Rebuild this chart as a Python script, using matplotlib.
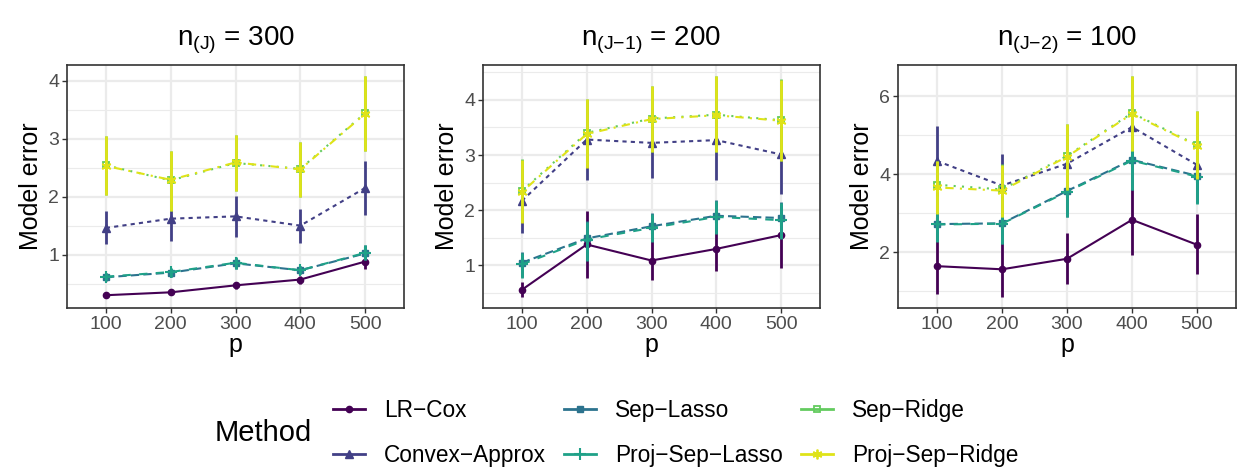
import numpy as np
import matplotlib
matplotlib.use("Agg")
import matplotlib.pyplot as plt
from matplotlib.lines import Line2D

plt.rcParams['font.family'] = ['Liberation Sans', 'DejaVu Sans']
plt.rcParams['mathtext.fontset'] = 'custom'
plt.rcParams['mathtext.rm'] = 'Liberation Sans'

# ---------------- data ----------------
p_values = [100, 200, 300, 400, 500]
methods = ["LR-Cox", "Convex-Approx", "Sep-Lasso", "Proj-Sep-Lasso", "Sep-Ridge", "Proj-Sep-Ridge"]
legend_labels = ["LR\u2212Cox", "Convex\u2212Approx", "Sep\u2212Lasso", "Proj\u2212Sep\u2212Lasso",
                 "Sep\u2212Ridge", "Proj\u2212Sep\u2212Ridge"]
panel_titles = [r"$\mathregular{n_{(J)}}$ = 300", r"$\mathregular{n_{(J{-}1)}}$ = 200",
                r"$\mathregular{n_{(J{-}2)}}$ = 100"]

# panel 1: n_(J) = 300
mean_300 = [[0.30, 0.35, 0.47, 0.57, 0.88],
            [1.46, 1.62, 1.66, 1.50, 2.15],
            [0.61, 0.69, 0.85, 0.73, 1.02],
            [0.62, 0.70, 0.86, 0.73, 1.03],
            [2.54, 2.28, 2.58, 2.48, 3.44],
            [2.53, 2.29, 2.59, 2.47, 3.43]]
lo_300 = [[0.27, 0.31, 0.41, 0.50, 0.75],
          [1.18, 1.23, 1.31, 1.20, 1.69],
          [0.55, 0.62, 0.76, 0.66, 0.90],
          [0.56, 0.62, 0.76, 0.66, 0.90],
          [2.02, 1.76, 2.10, 2.00, 2.78],
          [2.02, 1.76, 2.10, 2.00, 2.78]]
hi_300 = [[0.33, 0.39, 0.53, 0.64, 1.00],
          [1.75, 1.78, 2.01, 1.78, 2.61],
          [0.68, 0.76, 0.95, 0.81, 1.16],
          [0.68, 0.77, 0.96, 0.81, 1.17],
          [3.05, 2.78, 3.06, 2.95, 4.08],
          [3.05, 2.78, 3.06, 2.95, 4.08]]

# panel 2: n_(J-1) = 200
mean_200 = [[0.56, 1.38, 1.09, 1.30, 1.55],
            [2.17, 3.28, 3.22, 3.27, 3.01],
            [1.05, 1.49, 1.71, 1.90, 1.86],
            [1.02, 1.47, 1.68, 1.88, 1.82],
            [2.35, 3.40, 3.66, 3.73, 3.63],
            [2.33, 3.38, 3.65, 3.72, 3.62]]
lo_200 = [[0.43, 0.78, 0.74, 0.90, 0.96],
          [1.58, 2.55, 2.59, 2.55, 2.30],
          [0.80, 1.10, 1.45, 1.58, 1.50],
          [0.78, 1.08, 1.42, 1.57, 1.48],
          [1.78, 2.78, 3.05, 3.05, 2.90],
          [1.77, 2.77, 3.05, 3.05, 2.90]]
hi_200 = [[0.70, 1.98, 1.45, 1.70, 2.10],
          [2.75, 4.00, 3.85, 4.00, 3.70],
          [1.25, 1.80, 1.95, 2.18, 2.15],
          [1.22, 1.78, 1.93, 2.17, 2.13],
          [2.92, 4.02, 4.25, 4.43, 4.37],
          [2.91, 4.01, 4.25, 4.43, 4.36]]

# panel 3: n_(J-2) = 100
mean_100 = [[1.64, 1.56, 1.83, 2.83, 2.19],
            [4.34, 3.71, 4.27, 5.21, 4.24],
            [2.72, 2.74, 3.57, 4.37, 3.96],
            [2.71, 2.73, 3.55, 4.35, 3.94],
            [3.73, 3.61, 4.47, 5.57, 4.75],
            [3.66, 3.58, 4.45, 5.55, 4.73]]
lo_100 = [[0.92, 0.85, 1.17, 1.92, 1.45],
          [3.45, 2.95, 3.60, 4.45, 3.60],
          [2.28, 2.22, 2.90, 3.60, 3.25],
          [2.27, 2.21, 2.89, 3.59, 3.24],
          [3.00, 2.90, 3.60, 4.60, 3.90],
          [2.98, 2.89, 3.59, 4.59, 3.89]]
hi_100 = [[2.28, 2.25, 2.50, 3.62, 2.97],
          [5.23, 4.51, 4.90, 6.00, 4.75],
          [3.05, 2.95, 4.15, 4.62, 4.45],
          [3.04, 2.94, 4.14, 4.61, 4.44],
          [4.35, 4.25, 5.30, 6.52, 5.62],
          [4.34, 4.24, 5.29, 6.51, 5.61]]

panels = [(mean_300, lo_300, hi_300), (mean_200, lo_200, hi_200), (mean_100, lo_100, hi_100)]
y_ticks = [[1, 2, 3, 4], [1, 2, 3, 4], [2, 4, 6]]
y_minor = [[0.5, 1.5, 2.5, 3.5], [0.5, 1.5, 2.5, 3.5, 4.5], [1, 3, 5]]

# ---------------- styles ----------------
cmap = plt.get_cmap('viridis')
colors = [cmap(v) for v in np.linspace(0, 0.95, 6)]
linestyles = ['-', (0, (2, 2)), (0, (4, 2)), (0, (4, 4)), (0, (1, 3)), (0, (1, 3, 4, 3))]
marker_kw = [
    dict(marker='o', ms=4.5),
    dict(marker='^', ms=5.5),
    dict(marker='s', ms=4.5),
    dict(marker='+', ms=8, mew=1.5),
    dict(marker='s', ms=5, mfc='none', mew=1.3),
    dict(marker=(6, 2, 0), ms=7, mew=1.3),
]

W, H = 1238, 467
fig = plt.figure(figsize=(W / 100, H / 100), dpi=100)

axes_px = [(67, 404), (483, 820), (898, 1236)]
top_px, bot_px = 65, 308

x_pos = np.arange(1, len(p_values) + 1)
lw = 1.5

for k, ((means, los, his), (x0, x1)) in enumerate(zip(panels, axes_px)):
    ax = fig.add_axes([x0 / W, 1 - bot_px / H, (x1 - x0) / W, (bot_px - top_px) / H])
    for i, m in enumerate(methods):
        c = colors[i]
        ax.plot(x_pos, means[i], color=c, lw=lw, linestyle=linestyles[i], zorder=3 + i * 0.1)
        ax.vlines(x_pos, los[i], his[i], color=c, lw=2.0, zorder=3 + i * 0.1)
        ax.plot(x_pos, means[i], linestyle='none', color=c, zorder=3.05 + i * 0.1, **marker_kw[i])
    ax.set_xlim(0.4, 5.6)
    ax.margins(y=0.05)
    ax.set_xticks(x_pos)
    ax.set_xticklabels([str(p) for p in p_values])
    ax.set_yticks(y_ticks[k])
    ax.set_yticks(y_minor[k], minor=True)
    ax.tick_params(axis='y', which='minor', length=0)
    ax.tick_params(which='major', length=3.5, width=1.0, color='#333333', labelsize=14,
                   labelcolor='#4D4D4D', pad=2)
    ax.grid(True, which='major', color='#EBEBEB', lw=1.6, zorder=0)
    ax.grid(True, which='minor', axis='y', color='#EBEBEB', lw=0.8, zorder=0)
    ax.set_axisbelow(True)
    for s in ax.spines.values():
        s.set_color('#333333')
        s.set_linewidth(1.2)
    ax.set_xlabel('p', fontsize=18, labelpad=0)
    ax.set_ylabel('Model error', fontsize=18, labelpad=4)
    ax.set_title(panel_titles[k], fontsize=20, pad=14)

# legend
handles = [Line2D([0], [0], color=colors[i], lw=2, **marker_kw[i]) for i in range(len(methods))]

fig.legend(handles, legend_labels, ncol=3, loc='center', bbox_to_anchor=(0.546, 1 - 433 / H),
           frameon=False, fontsize=16.3, handlelength=1.4, handletextpad=0.85, columnspacing=0.8,
           labelspacing=1.0)
fig.text(215 / W, 1 - 433 / H, 'Method', fontsize=21, ha='left', va='center')

fig.savefig('out.png', dpi=100)
